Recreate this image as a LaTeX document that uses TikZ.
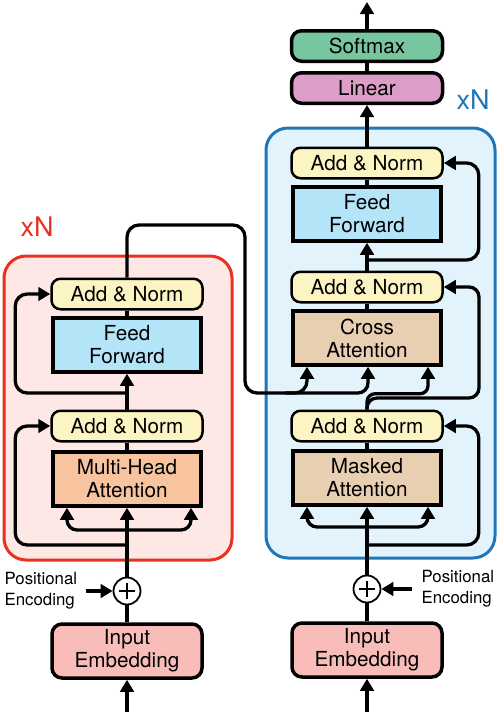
\documentclass[tikz,border=0pt]{standalone}
\usepackage{fontspec}
\setmainfont{TeX Gyre Heros}
\usetikzlibrary{arrows.meta,calc}

\definecolor{encline}{HTML}{E8311F}
\definecolor{encfill}{HTML}{FDE8E6}
\definecolor{decline}{HTML}{1F77BB}
\definecolor{decfill}{HTML}{E3F3FC}
\definecolor{normfill}{HTML}{FDF4C4}
\definecolor{fffill}{HTML}{B4E4F7}
\definecolor{mhafill}{HTML}{F8C4A0}
\definecolor{attfill}{HTML}{E9CFB1}
\definecolor{embfill}{HTML}{F8BDB8}
\definecolor{linfill}{HTML}{DC9DC7}
\definecolor{softfill}{HTML}{78C6A0}

\begin{document}
\begin{tikzpicture}[x=1pt,y=-1pt,line width=3.3pt,>={Triangle[length=12pt,width=13.5pt]}]
        \tikzstyle{box}=[
            draw=black,line width=3.5pt,minimum width=148pt,minimum height=54pt,
            inner sep=0pt,align=center,font=\fontsize{20.7}{23}\selectfont
        ]
        \tikzstyle{norm box}=[box,line width=2.5pt,rounded corners=9pt,
            minimum width=151pt,minimum height=30.5pt,fill=normfill]
        \tikzstyle{ff box}=[box,fill=fffill]
        \tikzstyle{mha box}=[box,fill=mhafill]
        \tikzstyle{att box}=[box,fill=attfill]
        \tikzstyle{emb box}=[box,rounded corners=10pt,minimum width=150pt,fill=embfill]
        \tikzstyle{out box}=[box,rounded corners=10pt,minimum width=151pt,minimum height=30.5pt]
        \tikzstyle{adder}=[circle,draw=black,fill=white,line width=1.8pt,
            minimum size=27pt,inner sep=0pt,
            path picture={\draw[line width=2.2pt]
                ($(path picture bounding box.center)+(-8,0)$) -- ++(16,0)
                ($(path picture bounding box.center)+(0,-8)$) -- ++(0,16);}
        ]
        \tikzstyle{pos text}=[align=left,inner sep=3pt,font=\fontsize{16.8}{21}\selectfont]
        \tikzstyle{times label}=[inner sep=0pt,font=\fontsize{27}{27}\selectfont]
        \tikzstyle{layer}=[line width=3pt,rounded corners=22pt]

        \useasboundingbox (0,0) rectangle (498,712);

        % Draw the encoder and decoder frames
        \draw[layer,draw=encline,fill=encfill] (4,256) rectangle (232,560);
        \draw[layer,draw=decline,fill=decfill] (266,128) rectangle (495,558);
        \node[times label,text=encline] (E-times) at (37,227) {xN};
        \node[times label,text=decline] (D-times) at (473,100) {xN};

        % Draw the encoder blocks
        \node[emb box] (E-emb) at (127,651) {Input\\Embedding};
        \node[adder] (E-plus) at (127,591) {};
        \node[mha box] (E-mha) at (127,479) {Multi-Head\\Attention};
        \node[norm box] (E-norm1) at (127,426) {Add \& Norm};
        \node[ff box] (E-ff) at (127,345) {Feed\\Forward};
        \node[norm box] (E-norm2) at (127,294) {Add \& Norm};
        \node[pos text,anchor=west] (E-pos) at (0,591) {Positional\\Encoding};

        % Draw the decoder blocks
        \node[emb box] (D-emb) at (367,650) {Input\\Embedding};
        \node[adder] (D-plus) at (367,589) {};
        \node[att box] (D-mask) at (367,478) {Masked\\Attention};
        \node[norm box] (D-norm1) at (367,426) {Add \& Norm};
        \node[att box] (D-cross) at (367,338) {Cross\\Attention};
        \node[norm box] (D-norm2) at (367,287) {Add \& Norm};
        \node[ff box] (D-ff) at (367,214) {Feed\\Forward};
        \node[norm box] (D-norm3) at (367,163) {Add \& Norm};
        \node[out box,fill=linfill] (D-lin) at (367,88) {Linear};
        \node[out box,fill=softfill] (D-soft) at (367,46) {Softmax};
        \node[pos text,anchor=west] (D-pos) at (417,589) {Positional\\Encoding};

        % Branch points of the connectors
        \coordinate (E-in) at (127,712);
        \coordinate (E-split) at (127,530);
        \coordinate (E-res1) at (127,545);
        \coordinate (E-res2) at (127,393);
        \coordinate (E-out) at (245,225);
        \coordinate (E-bend) at (245,393);
        \coordinate (E-kv) at (285,393);
        \coordinate (D-in) at (367,712);
        \coordinate (D-split) at (367,527);
        \coordinate (D-res1) at (367,545);
        \coordinate (D-res2) at (479,398);
        \coordinate (D-res3) at (367,260);
        \coordinate (D-top) at (367,2);

        % Connect the encoder
        \draw[->] (E-in) -- (E-emb.south);
        \draw (E-emb.north) -- (E-plus.south);
        \draw[->,shorten <=4pt] (E-pos.east) -- (E-plus.west);
        \draw[->] (E-plus.north) -- (E-mha.south);
        \foreach \dx in {-60,64}
            \draw[->,rounded corners=10pt] (E-split) -| ($(E-mha.south)+(\dx,0)$);
        \draw[->,rounded corners=12pt] (E-res1) -| ($(E-norm1.west)+(-35,0)$) -- (E-norm1.west);
        \draw (E-mha.north) -- (E-norm1.south);
        \draw[->] (E-norm1.north) -- (E-ff.south);
        \draw[->,rounded corners=12pt] (E-res2) -| ($(E-norm2.west)+(-35,0)$) -- (E-norm2.west);
        \draw (E-ff.north) -- (E-norm2.south);

        % Encoder output goes into the cross attention
        \draw[->,rounded corners=12pt] (E-norm2.north) |- (E-out) -- (E-bend)
            -| ($(D-cross.south)+(-60,0)$);
        \draw[->,rounded corners=10pt] (E-kv) -| ($(D-cross.south)+(1,0)$);

        % Connect the decoder
        \draw[->] (D-in) -- (D-emb.south);
        \draw (D-emb.north) -- (D-plus.south);
        \draw[->,shorten <=5pt] (D-pos.west) -- (D-plus.east);
        \draw[->] (D-plus.north) -- (D-mask.south);
        \foreach \dx in {-60,61}
            \draw[->,rounded corners=10pt] (D-split) -| ($(D-mask.south)+(\dx,0)$);
        \draw[->,rounded corners=12pt] (D-res1) -| ($(D-norm1.east)+(35,0)$) -- (D-norm1.east);
        \draw (D-mask.north) -- (D-norm1.south);
        \draw[->,rounded corners=8pt] (D-norm1.north) |- ($(D-cross.south)+(30,27)$)
            -| ($(D-cross.south)+(61,0)$);
        \draw[->,rounded corners=10pt] (D-norm1.north) |- (D-res2) |- (D-norm2.east);
        \draw (D-cross.north) -- (D-norm2.south);
        \draw[->] (D-norm2.north) -- (D-ff.south);
        \draw[->,rounded corners=12pt] (D-res3) -| ($(D-norm3.east)+(35,0)$) -- (D-norm3.east);
        \draw (D-ff.north) -- (D-norm3.south);
        \draw[->] (D-norm3.north) -- (D-lin.south);
        \draw (D-lin.north) -- (D-soft.south);
        \draw[->] (D-soft.north) -- (D-top);
    \end{tikzpicture}
\end{document}
